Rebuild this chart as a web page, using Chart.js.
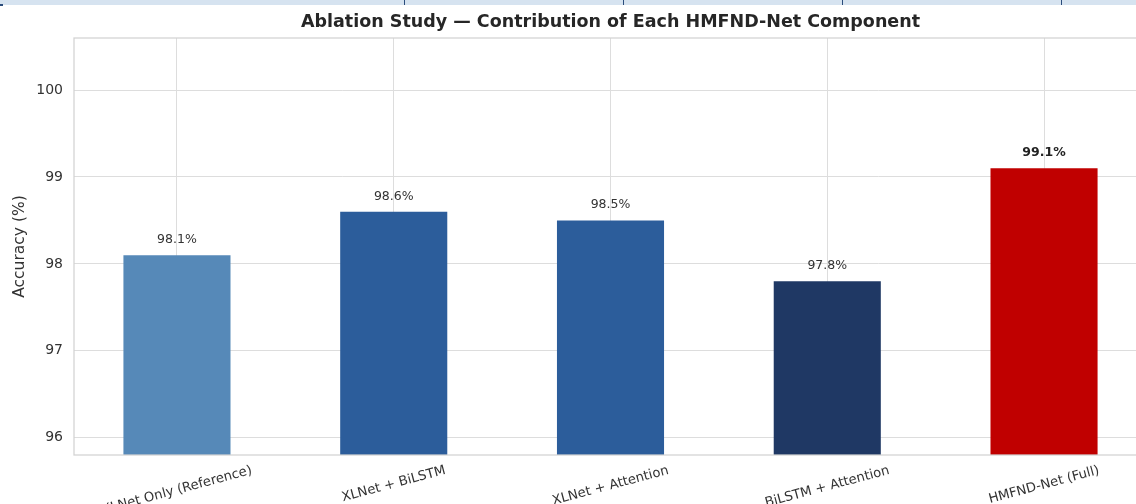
<!DOCTYPE html>
<html>
<head>
<meta charset="utf-8">
<script src="https://cdn.jsdelivr.net/npm/chart.js@4.4.1/dist/chart.umd.min.js"></script>
<style>
  html, body { margin: 0; padding: 0; background: #fff; overflow: hidden; width: 1136px; height: 504px; }
  #wrap { position: relative; width: 1160px; height: 504px; }
  #strip { position: absolute; left: 0; top: 0; width: 1136px; height: 5px; background: #d6e3f0; z-index: 2; }
  #strip .sep { position: absolute; top: 0; width: 1px; height: 5px; background: #2b4c7c; }
  #strip .dash { position: absolute; left: 0; top: 4px; width: 3px; height: 2px; background: #2b4c7c; }
</style>
</head>
<body>
<div id="strip">
  <div class="dash"></div>
  <div class="sep" style="left:404px"></div>
  <div class="sep" style="left:623px"></div>
  <div class="sep" style="left:842px"></div>
  <div class="sep" style="left:1061px"></div>
</div>
<div id="wrap"><canvas id="c" width="1160" height="504"></canvas></div>
<script>
// Ablation variants and their test accuracy (%)
const categories = [
  'XLNet Only (Reference)',
  'XLNet + BiLSTM',
  'XLNet + Attention',
  'BiLSTM + Attention',
  'HMFND-Net (Full)'
];
const accuracy = [98.1, 98.6, 98.5, 97.8, 99.1];
const barColors = ['#5689b8', '#2c5d9b', '#2c5d9b', '#1f3864', '#c00000'];
const yTicks = [96, 97, 98, 99, 100];
const yMin = 95.8;
const yMax = 100.6;
const titleText = 'Ablation Study \u2014 Contribution of Each HMFND-Net Component';
const yTitle = 'Accuracy (%)';

const FONT = "'DejaVu Sans', 'Liberation Sans', sans-serif";
const TEXT = '#333333';
const GRID = '#dddddd';

// Title centred over the plot area
const titlePlugin = {
  id: 'plotTitle',
  afterDraw(chart) {
    const { ctx, chartArea } = chart;
    ctx.save();
    ctx.font = `bold 17.5px ${FONT}`;
    ctx.fillStyle = '#262626';
    ctx.textAlign = 'center';
    ctx.textBaseline = 'middle';
    ctx.fillText(titleText, (chartArea.left + chartArea.right) / 2, 22);
    ctx.restore();
  }
};

// Light frame round the plot area
const framePlugin = {
  id: 'frame',
  afterDatasetsDraw(chart) {
    const { ctx, chartArea: a } = chart;
    ctx.save();
    ctx.strokeStyle = '#d2d2d2';
    ctx.lineWidth = 1.25;
    ctx.strokeRect(a.left, a.top, a.right - a.left, a.bottom - a.top);
    ctx.restore();
  }
};

// Percentage labels above each bar; the full model's label is bold
const valueLabelPlugin = {
  id: 'valueLabels',
  afterDatasetsDraw(chart) {
    const { ctx } = chart;
    const meta = chart.getDatasetMeta(0);
    ctx.save();
    ctx.textAlign = 'center';
    ctx.textBaseline = 'middle';
    meta.data.forEach((bar, i) => {
      const last = i === accuracy.length - 1;
      ctx.font = `${last ? 'bold ' : ''}12.5px ${FONT}`;
      ctx.fillStyle = last ? '#222222' : TEXT;
      ctx.fillText(accuracy[i].toFixed(1) + '%', bar.x, bar.y - 15.5);
    });
    ctx.restore();
  }
};

// Category names, rotated 15 degrees and centred under each tick
const xLabelPlugin = {
  id: 'xLabels',
  afterDraw(chart) {
    const { ctx } = chart;
    const xs = chart.scales.x;
    const ang = 15 * Math.PI / 180;
    const size = 13.2;
    ctx.save();
    ctx.font = `${size}px ${FONT}`;
    ctx.fillStyle = TEXT;
    ctx.textAlign = 'center';
    ctx.textBaseline = 'middle';
    const top = chart.chartArea.bottom + 8;
    categories.forEach((label, i) => {
      const w = ctx.measureText(label).width;
      const h = size * 1.15;
      const boxH = w * Math.sin(ang) + h * Math.cos(ang);
      const cx = xs.getPixelForValue(i);
      const cy = top + boxH / 2;
      ctx.save();
      ctx.translate(cx, cy);
      ctx.rotate(-ang);
      ctx.fillText(label, 0, 0);
      ctx.restore();
    });
    ctx.restore();
  }
};

new Chart(document.getElementById('c'), {
  type: 'bar',
  data: {
    datasets: [{
      data: accuracy.map((v, i) => ({ x: i, y: v })),
      backgroundColor: barColors,
      borderWidth: 0,
      categoryPercentage: 1.0,
      barPercentage: 0.494
    }]
  },
  plugins: [titlePlugin, framePlugin, valueLabelPlugin, xLabelPlugin],
  options: {
    responsive: false,
    animation: false,
    devicePixelRatio: 1,
    layout: { padding: { top: 38, right: 13, left: 0, bottom: 0 } },
    plugins: {
      legend: { display: false },
      title: { display: false },
      tooltip: { enabled: false }
    },
    scales: {
      x: {
        type: 'linear',
        min: -0.475,
        max: 4.475,
        offset: false,
        afterBuildTicks(scale) {
          scale.ticks = categories.map((_, i) => ({ value: i }));
        },
        afterFit(scale) { scale.height = 49; },
        ticks: { display: false },
        grid: { color: GRID, lineWidth: 1, drawTicks: false, offset: false },
        border: { display: false }
      },
      y: {
        min: yMin,
        max: yMax,
        afterBuildTicks(scale) {
          scale.ticks = yTicks.map(v => ({ value: v }));
        },
        afterFit(scale) { scale.width = 74; },
        ticks: {
          padding: 11,
          color: TEXT,
          font: { family: FONT, size: 14 },
          callback: v => String(v)
        },
        grid: { color: GRID, lineWidth: 1, drawTicks: false },
        border: { display: false },
        title: {
          display: true,
          text: yTitle,
          color: TEXT,
          font: { family: FONT, size: 15.5 },
          padding: { top: 11, bottom: 0 }
        }
      }
    }
  }
});
</script>
</body>
</html>
